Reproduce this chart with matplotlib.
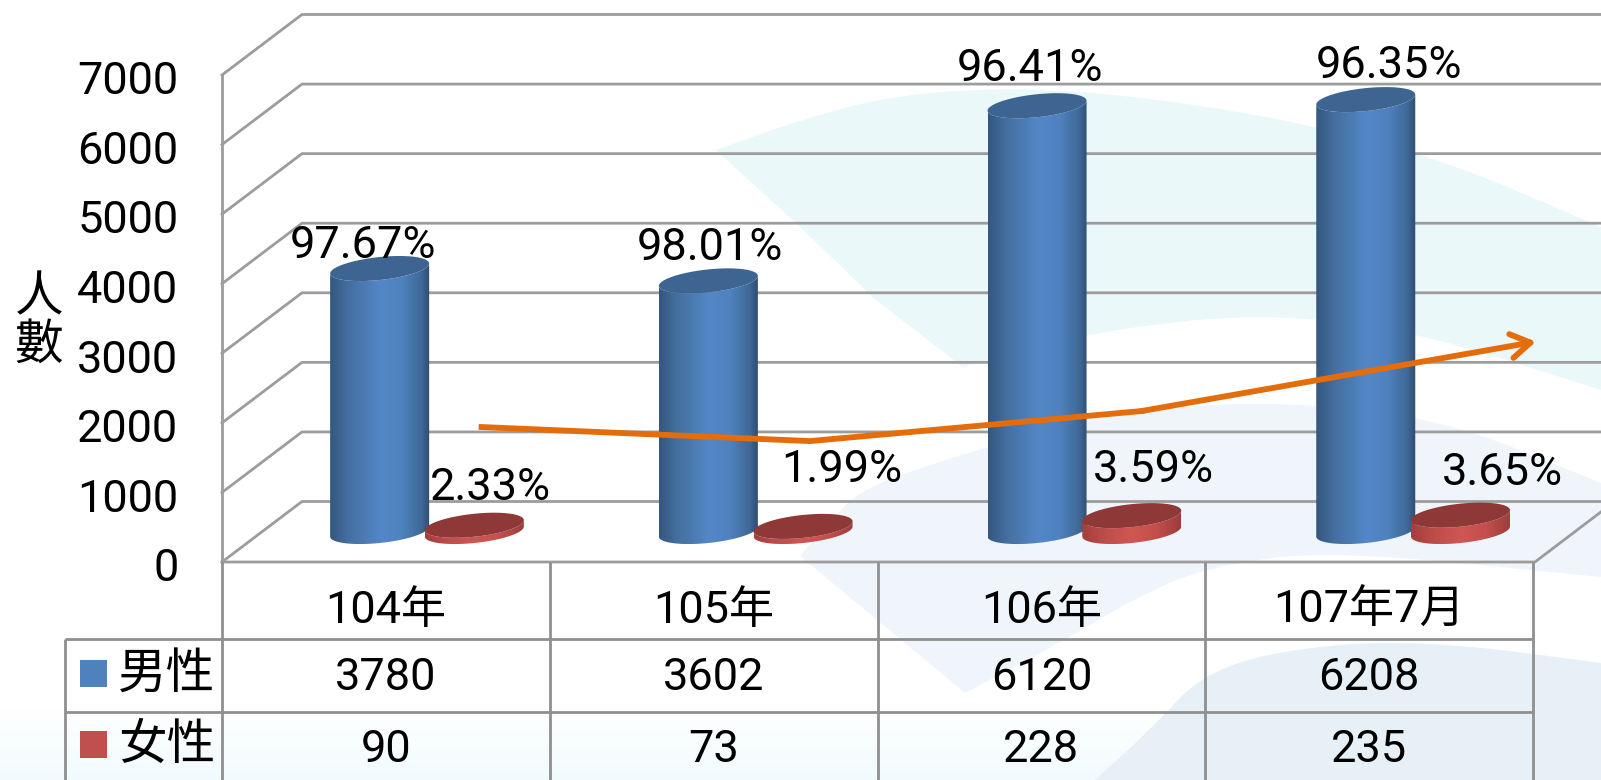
import numpy as np
import matplotlib
matplotlib.use('Agg')
import matplotlib.pyplot as plt
from matplotlib.colors import LinearSegmentedColormap
from matplotlib.patches import Polygon, Rectangle
from matplotlib.transforms import ScaledTranslation, blended_transform_factory

plt.rcParams['font.family'] = ['Roboto', 'Noto Sans CJK TC']

# data
categories = ['104年', '105年', '106年', '107年7月']
men = [3780, 3602, 6120, 6208]
women = [90, 73, 228, 235]
men_pct = ['97.67%', '98.01%', '96.41%', '96.35%']
women_pct = ['2.33%', '1.99%', '3.59%', '3.65%']
y_ticks = [0, 1000, 2000, 3000, 4000, 5000, 6000, 7000]
trend_x = [0.792, 1.794, 2.806, 4.009]
trend_y = [1940, 1738, 2170, 3167]

# label anchors in picture pixels
men_label_px = [(363, 246), (710, 248), (1030, 69), (1389, 66)]
women_label_px = [(490, 488), (842, 470), (1153, 470), (1502, 473)]

W, H = 1601, 780
LEFT, RIGHT, ZERO, TOP = 222, 1533, 562, 75
X_UNIT = (RIGHT - LEFT) / 4
Y_UNIT = (ZERO - TOP) / 7000
GREY = '#9c9c9c'
TXT = 32.5

fig = plt.figure(figsize=(W / 100, H / 100), dpi=100, facecolor='white')


def soften(points, rounds=3):
    # corner cutting for the pale background curves
    pts = np.array(points, dtype=float)
    for _ in range(rounds):
        a, b = pts[:-1], pts[1:]
        mid = np.empty((len(a) * 2, 2))
        mid[0::2] = 0.75 * a + 0.25 * b
        mid[1::2] = 0.25 * a + 0.75 * b
        pts = np.vstack([pts[:1], mid, pts[-1:]])
    return pts


# background layer in pixels
bg = fig.add_axes([0, 0, 1, 1], zorder=0)
bg.set_xlim(0, W)
bg.set_ylim(H, 0)
bg.axis('off')

fade = LinearSegmentedColormap.from_list('fade', ['#ffffff', '#ffffff', '#f1fbfe'])
bg.imshow(np.linspace(0, 1, 100).reshape(-1, 1), extent=[0, W, H, 640], cmap=fade, aspect='auto')

a_top = [(716, 150), (800, 120), (902, 93), (1055, 87), (1259, 113), (1438, 157), (1601, 227)]
a_low = [(1601, 390), (1412, 330), (1259, 313), (1106, 330), (1030, 350), (963, 367)]
a_left = [(876, 300), (800, 227)]
b_top = [(800, 556), (835, 515), (866, 487), (953, 457), (1100, 415), (1259, 400), (1438, 417), (1601, 483)]
b_low = [(1601, 577), (1329, 550), (1207, 567), (1137, 597), (1065, 640), (965, 693)]
c_top = [(1095, 780), (1147, 733), (1209, 667), (1329, 643), (1449, 643), (1601, 663)]

bg.add_patch(Polygon(np.vstack([soften(a_top), soften(a_low), a_left]), closed=True, fc='#ebf8fa', ec='none'))
bg.add_patch(Polygon(np.vstack([soften(b_top), soften(b_low)]), closed=True, fc='#f0f5fb', ec='none'))
bg.add_patch(Polygon(np.vstack([soften(c_top), [(1601, 780)]]), closed=True, fc='#e8f0f7', ec='none'))

# main axes, one category per table column
ax = fig.add_axes([LEFT / W, 1 - ZERO / H, (RIGHT - LEFT) / W, (ZERO - TOP) / H], zorder=1)
ax.patch.set_visible(False)
for s in ax.spines.values():
    s.set_visible(False)

BACK_X = 80 / X_UNIT
BACK_Y = 60.5 / Y_UNIT
FLOOR_Y = 30.5 / Y_UNIT
BAR_STEP = 328.7 / X_UNIT

# walls and grid
for v in y_ticks:
    ax.plot([0, BACK_X, 5], [v, v + BACK_Y, v + BACK_Y], color=GREY, lw=2, clip_on=False, zorder=1)
ax.plot([0, 0], [0, 7000], color=GREY, lw=2, clip_on=False, zorder=1)
ax.plot([0, 4.006, 4.207], [0, 0, 50 / Y_UNIT], color=GREY, lw=2, clip_on=False, zorder=1)

body_blue = LinearSegmentedColormap.from_list('b', [(0, '#34577f'), (0.18, '#446f9f'), (0.5, '#5387c7'),
                                                    (0.72, '#4f82bf'), (0.92, '#3f6896'), (1, '#2f4c72')])
body_red = LinearSegmentedColormap.from_list('r', ['#a33f3d', '#c04e4b', '#d05653', '#c44f4c', '#9c3d3b'])


def ring(cx, v, half_w, t):
    xs = cx + half_w * np.cos(t) / X_UNIT
    ys = v + (5 * np.cos(t) + 11.5 * np.sin(t)) / Y_UNIT
    return np.column_stack([xs, ys])


def cylinder(cx, value, cmap, cap, z):
    half_w = 49.5
    base = FLOOR_Y
    top_v = FLOOR_Y + value
    low = ring(cx, base, half_w, np.linspace(np.pi, 2 * np.pi, 60))
    up = ring(cx, top_v, half_w, np.linspace(0, -np.pi, 60))
    shape = Polygon(np.vstack([low, up]), closed=True, transform=ax.transData, fc='none', ec='none')
    d = half_w / X_UNIT
    im = ax.imshow(np.linspace(0, 1, 128).reshape(1, -1), extent=[cx - d, cx + d, base - 300, top_v + 300],
                   cmap=cmap, aspect='auto', zorder=z)
    im.set_clip_path(shape)
    ax.add_patch(Polygon(ring(cx, top_v, half_w, np.linspace(0, 2 * np.pi, 120)), closed=True,
                         fc=cap, ec='none', zorder=z + 0.1, clip_on=False))


for i in range(len(categories)):
    cylinder(i * BAR_STEP + 0.481, men[i], body_blue, '#3e6591', 3 + i)
    cylinder(i * BAR_STEP + 0.770, women[i], body_red, '#8e3937', 3.5 + i)

# trend arrow
ax.plot(trend_x[:-1], trend_y[:-1], color='#e46c0a', lw=4.2, clip_on=False, zorder=9, solid_joinstyle='miter')
ax.annotate('', xy=(trend_x[-1], trend_y[-1]), xytext=(trend_x[-2], trend_y[-2]), annotation_clip=False, zorder=9,
            arrowprops=dict(arrowstyle='->,head_length=0.5,head_width=0.31', color='#e46c0a', lw=4.2,
                            mutation_scale=28, shrinkA=0, shrinkB=0))

ax.set_xlim(0, 4)
ax.set_ylim(0, 7000)
ax.set_xticks([])
ax.set_yticks(y_ticks)
ax.tick_params(axis='y', length=0, pad=31.5, labelsize=TXT)
for tick in ax.yaxis.get_major_ticks():
    tick.label1.set_transform(tick.label1.get_transform() + ScaledTranslation(0, -2 / 72, fig.dpi_scale_trans))

# overlay for percent labels and the data table
top = fig.add_axes([0, 0, 1, 1], zorder=2)
top.set_xlim(0, W)
top.set_ylim(H, 0)
top.axis('off')

for (x, y), s in zip(men_label_px + women_label_px, men_pct + women_pct):
    top.text(x, y, s, ha='center', va='center', fontsize=TXT, color='black')

top.text(39, 322, '人\n數', ha='center', va='center', fontsize=35, linespacing=1.05)

rows = [639, 711.5]
cols = [LEFT + X_UNIT * i for i in range(5)]
line = dict(color='#8f8f8f', lw=2, solid_capstyle='butt')
for y in rows:
    top.plot([65, cols[-1]], [y, y], **line)
top.plot([65, 65], [639, H], **line)
for x in cols:
    top.plot([x, x], [ZERO, H], **line)

mix = blended_transform_factory(ax.transData, top.transData)
for i in range(4):
    top.text(i + 0.5, 611, categories[i], transform=mix, ha='center', va='center', fontsize=TXT)
    top.text(i + 0.5, 678, str(men[i]), transform=mix, ha='center', va='center', fontsize=TXT)
    top.text(i + 0.5, 750, str(women[i]), transform=mix, ha='center', va='center', fontsize=TXT)

top.add_patch(Rectangle((80, 660), 27, 27, fc='#4f81bd', ec='none'))
top.add_patch(Rectangle((80, 731), 27, 27, fc='#c0504d', ec='none'))
top.text(167, 675, '男性', ha='center', va='center', fontsize=35)
top.text(167, 746, '女性', ha='center', va='center', fontsize=35)

fig.savefig('out.png', dpi=100)
